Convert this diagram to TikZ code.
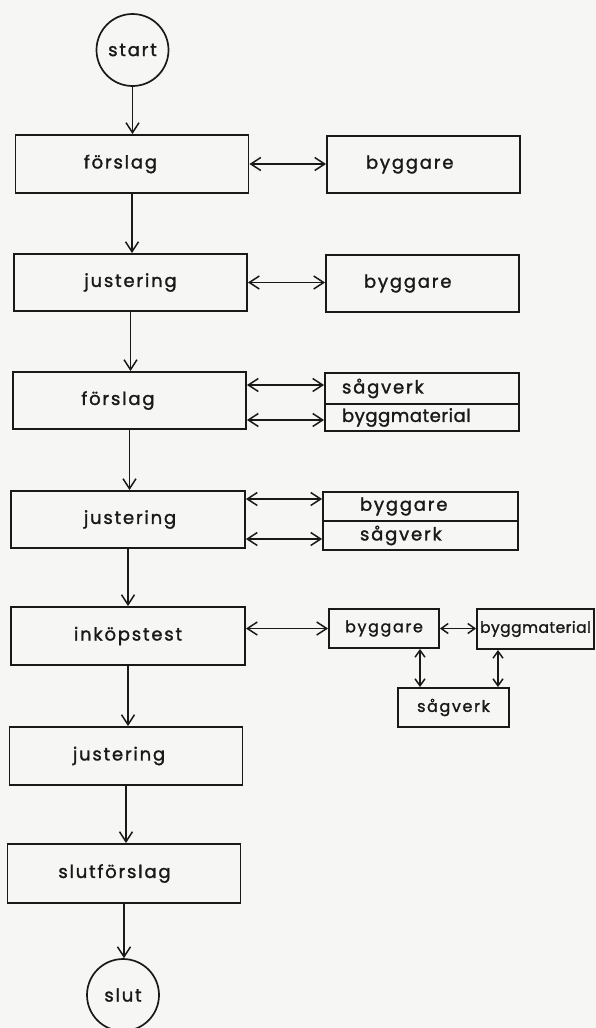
\documentclass[tikz,border=0pt]{standalone}
\usepackage{fontspec}
\setmainfont{Poppins}
\newfontfamily\lbl{Poppins}[LetterSpace=10,FakeBold=1.5]
\newfontfamily\lblt{Poppins}[LetterSpace=3,FakeBold=1.5]
\usetikzlibrary{arrows.meta,calc}
\definecolor{inkc}{RGB}{25,25,25}
\definecolor{paper}{RGB}{246,246,244}
\begin{document}
\begin{tikzpicture}[x=1pt,y=-1pt,
  bx/.style={draw=inkc, line width=1.9pt, rectangle, inner sep=0pt, text=inkc,
             font={\lbl\fontsize{18pt}{20pt}\selectfont}},
  main/.style={bx, minimum width=233pt, minimum height=58pt},
  side/.style={bx, minimum height=57pt, text width=115pt, inner xsep=39pt, align=left},
  half/.style={bx, text width=160pt, align=left},
  small/.style={bx, minimum height=39pt, font={\lbl\fontsize{16pt}{18pt}\selectfont}},
  term/.style={draw=inkc, line width=1.7pt, circle, minimum size=72pt, inner sep=0pt,
             text=inkc, font={\lbl\fontsize{18pt}{20pt}\selectfont}},
  flow/.style={draw=inkc, line width=1.5pt, -{Straight Barb[length=10pt,width=13pt]}},
  both/.style={draw=inkc, line width=1.5pt,
             {Straight Barb[length=10pt,width=13pt]}-{Straight Barb[length=10pt,width=13pt]}},
  sboth/.style={draw=inkc, line width=1.5pt,
             {Straight Barb[length=7pt,width=10pt]}-{Straight Barb[length=7pt,width=10pt]}}
]
\fill[paper] (0,0) rectangle (596,1028);
\clip (0,0) rectangle (596,1028);

% main column
\node[term] (start) at (132.5,50) {start};
\node[main] (f1) at (132,164) {\hspace*{-23pt}förslag};
\node[main, minimum height=57pt] (j1) at (130.5,282.5) {justering};
\node[main, minimum height=57pt] (f2) at (129.5,400.5) {\hspace*{-23pt}förslag};
\node[main, minimum width=234pt, minimum height=57pt] (j2) at (128,519.5) {\hspace*{4pt}justering};
\node[main, minimum width=234pt] (ink) at (128,636) {inköpstest};
\node[main] (j3) at (126,756) {\hspace*{-14pt}justering};
\node[main, minimum height=59pt] (sf) at (124,873.5) {\hspace*{-19pt}slutförslag};
\node[term] (slut) at (123,995) {slut};

% right column
\node[side] (b1) at (423.5,164.5) {byggare};
\node[side, inner xsep=38pt, text width=117pt] (b2) at (422.5,283.5) {byggare};

\node[half, minimum height=31pt, inner xsep=17pt] (sv1) at (422,388.5) {sågverk};
\node[half, minimum height=27pt, inner xsep=17pt, font={\lblt\fontsize{18pt}{20pt}\selectfont}] (bm1) at (422,417.5) {byggmaterial};

\node[half, minimum height=29pt, inner xsep=37pt, text width=121pt] (by3) at (420.5,506.5) {byggare};
\node[half, minimum height=29pt, inner xsep=37pt, text width=121pt] (sv3) at (420.5,535.5) {sågverk};

\node[small, minimum width=110pt] (by4) at (384,628.5) {byggare};
\node[small, minimum width=117pt, minimum height=40pt,
      font={\lblt\fontsize{15.5pt}{18pt}\selectfont}] (bm4) at (535.5,629) {byggmaterial};
\node[small, minimum width=111pt] (sv4) at (453.5,707.5) {sågverk};

% vertical flow
\draw[flow] (start.south) -- (start.south |- f1.north);
\draw[flow] (f1.south) -- (f1.south |- j1.north);
\draw[flow] (j1.south) -- (j1.south |- f2.north);
\draw[flow] (f2.south) -- (f2.south |- j2.north);
\draw[flow] (j2.south) -- (j2.south |- ink.north);
\draw[flow] (ink.south) -- (ink.south |- j3.north);
\draw[flow] (j3.south) -- (j3.south |- sf.north);
\draw[flow] (sf.south) -- (sf.south |- slut.north);

% horizontal links
\draw[both] (f1.east) -- (f1.east -| b1.west);
\draw[both] (j1.east) -- (j1.east -| b2.west);
\coordinate (a1) at ($(sv1.west)+(0,-3.5)$);
\coordinate (a2) at ($(bm1.west)+(0,2.5)$);
\draw[both] (f2.east |- a1) -- (a1);
\draw[both] (f2.east |- a2) -- (a2);
\coordinate (a3) at ($(by3.west)+(0,-7.5)$);
\coordinate (a4) at ($(sv3.west)+(0,3.5)$);
\draw[both] (j2.east |- a3) -- (a3);
\draw[both] (j2.east |- a4) -- (a4);
\draw[both] (ink.east |- by4.west) -- (by4.west);

% cluster
\draw[sboth] (by4.east) -- (by4.east -| bm4.west);
\coordinate (v1) at ($(by4.south)+(36,0)$);
\coordinate (v2) at ($(bm4.south)+(-37.5,0)$);
\draw[sboth] (v1) -- (v1 |- sv4.north);
\draw[sboth] (v2) -- (v2 |- sv4.north);
\end{tikzpicture}
\end{document}
